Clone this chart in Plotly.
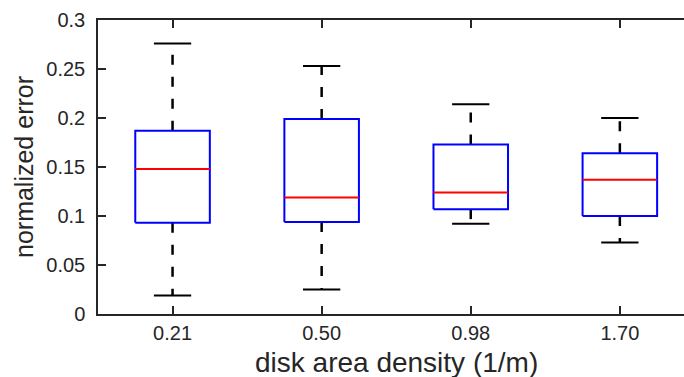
import plotly.graph_objects as go

categories = ["0.21", "0.50", "0.98", "1.70"]
upper_whisker = [0.276, 0.253, 0.214, 0.200]
q3 = [0.187, 0.199, 0.173, 0.164]
median = [0.148, 0.119, 0.124, 0.137]
q1 = [0.093, 0.094, 0.107, 0.100]
lower_whisker = [0.019, 0.025, 0.092, 0.073]
y_ticks = [0, 0.05, 0.1, 0.15, 0.2, 0.25, 0.3]
y_tick_labels = ["0", "0.05", "0.1", "0.15", "0.2", "0.25", "0.3"]

pos = list(range(1, len(categories) + 1))
half_w = 0.25
cap_w = 0.125

box_x, box_y = [], []
med_x, med_y = [], []
wh_x, wh_y = [], []
cap_x, cap_y = [], []
for p, lo, a, m, b, hi in zip(pos, lower_whisker, q1, median, q3, upper_whisker):
    box_x += [p - half_w, p + half_w, p + half_w, p - half_w, p - half_w, None]
    box_y += [a, a, b, b, a, None]
    med_x += [p - half_w, p + half_w, None]
    med_y += [m, m, None]
    wh_x += [p, p, None, p, p, None]
    wh_y += [b, hi, None, a, lo, None]
    cap_x += [p - cap_w, p + cap_w, None, p - cap_w, p + cap_w, None]
    cap_y += [hi, hi, None, lo, lo, None]

fig = go.Figure()
fig.add_trace(go.Scatter(x=wh_x, y=wh_y, mode="lines",
                         line=dict(color="black", width=2.5, dash="10px,12px"),
                         hoverinfo="skip", showlegend=False))
fig.add_trace(go.Scatter(x=cap_x, y=cap_y, mode="lines",
                         line=dict(color="black", width=2),
                         hoverinfo="skip", showlegend=False))
fig.add_trace(go.Scatter(x=box_x, y=box_y, mode="lines",
                         line=dict(color="#0000ff", width=2),
                         hoverinfo="skip", showlegend=False))
fig.add_trace(go.Scatter(x=med_x, y=med_y, mode="lines",
                         line=dict(color="#ff0000", width=2),
                         hoverinfo="skip", showlegend=False))

W, H = 684, 377
ml, mt, mb = 98, 20, 63
ph = H - mt - mb
px_per_cat = 149.1
x_right = 0.5 + (W - ml) / px_per_cat

font_family = "Liberation Sans, Arial, sans-serif"
txt = "#262626"

fig.update_layout(
    width=W, height=H,
    margin=dict(l=ml, r=0, t=mt, b=mb),
    paper_bgcolor="white", plot_bgcolor="white",
    font=dict(family=font_family, color=txt, size=20),
    xaxis=dict(range=[0.5, x_right], tickvals=pos, ticktext=categories,
               ticks="inside", ticklen=8, tickwidth=1.5, tickcolor=txt,
               showline=True, linecolor=txt, linewidth=1.5, mirror="ticks",
               showgrid=False, zeroline=False,
               tickfont=dict(size=20, color=txt)),
    yaxis=dict(range=[0, 0.3], tickvals=y_ticks, ticktext=y_tick_labels,
               ticks="inside", ticklen=8, tickwidth=1.5, tickcolor=txt,
               showline=True, linecolor=txt, linewidth=1.5, mirror=False,
               showgrid=False, zeroline=False, ticklabelstandoff=7,
               tickfont=dict(size=20, color=txt)),
    annotations=[
        dict(text="disk area density (1/m)", x=2.5, xref="x",
             y=-30.5 / ph, yref="paper",
             yanchor="top", xanchor="center", showarrow=False,
             font=dict(size=28, color=txt, family=font_family)),
        dict(text="normalized error", x=(24 - ml) / (W - ml), xref="paper",
             y=0.5, yref="paper", textangle=-90,
             xanchor="center", yanchor="middle", showarrow=False,
             font=dict(size=25, color=txt, family=font_family)),
    ],
)

fig.write_html("out.html")
